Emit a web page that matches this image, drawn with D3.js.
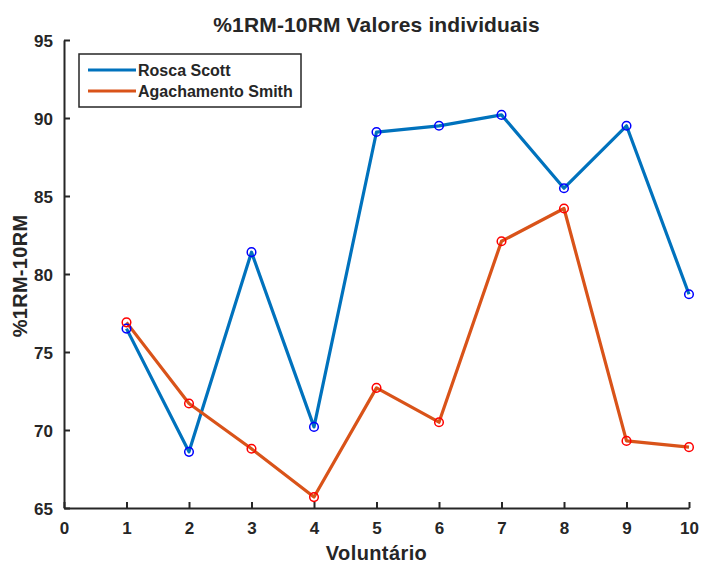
<!DOCTYPE html>
<html>
<head>
<script src="https://d3js.org/d3.v7.min.js"></script>
<style>
  body { margin: 0; background: #fff; }
  text { font-family: "Liberation Sans", Arial, sans-serif; font-weight: bold; fill: #262626; }
</style>
</head>
<body>
<script>
var w = 701, h = 563;

// data
var voluntarios = [1, 2, 3, 4, 5, 6, 7, 8, 9, 10];
var roscaScott = [76.5, 68.6, 81.4, 70.2, 89.1, 89.5, 90.2, 85.5, 89.5, 78.7];
var agachamentoSmith = [76.9, 71.7, 68.8, 65.7, 72.7, 70.5, 82.1, 84.2, 69.3, 68.9];
var xTicks = [0, 1, 2, 3, 4, 5, 6, 7, 8, 9, 10];
var yTicks = [65, 70, 75, 80, 85, 90, 95];
var seriesNames = ["Rosca Scott", "Agachamento Smith"];

var mLeft = 64, mRight = 689, mTop = 40, mBottom = 508;

var svg = d3.select("body").append("svg").attr("width", w).attr("height", h);

var x = d3.scaleLinear().domain([0, 10]).range([mLeft, mRight]);
var y = d3.scaleLinear().domain([65, 95]).range([mBottom, mTop]);

// axes (ticks point inward like matlab)
var xAxis = d3.axisBottom(x).tickValues(xTicks).tickSizeInner(-6).tickSizeOuter(0).tickPadding(14);
var yAxis = d3.axisLeft(y).tickValues(yTicks).tickSizeInner(-6).tickSizeOuter(0).tickPadding(11);

var gx = svg.append("g").attr("transform", "translate(0," + mBottom + ")").call(xAxis);
var gy = svg.append("g").attr("transform", "translate(" + mLeft + ",0)").call(yAxis);

[gx, gy].forEach(function(g){
  g.select(".domain").attr("stroke", "#262626").attr("stroke-width", 2);
  g.selectAll(".tick line").attr("stroke", "#262626").attr("stroke-width", 2);
  g.selectAll(".tick text").attr("font-size", "17px").attr("fill", "#262626")
    .style("font-family", "'Liberation Sans', Arial, sans-serif").style("font-weight", "bold");
});
gy.selectAll(".tick text").attr("dy", "0.36em");

var series = [
  {name: seriesNames[0], vals: roscaScott, line: "#0072BD", marker: "#0000FF"},
  {name: seriesNames[1], vals: agachamentoSmith, line: "#D95319", marker: "#FF0000"}
];

var line = d3.line()
  .x(function(d, i){ return x(voluntarios[i]); })
  .y(function(d){ return y(d); });

series.forEach(function(s){
  svg.append("path").datum(s.vals)
    .attr("d", line)
    .attr("fill", "none")
    .attr("stroke", s.line)
    .attr("stroke-width", 3.2)
    .attr("stroke-linejoin", "round");
});

series.forEach(function(s){
  svg.selectAll(null).data(s.vals).enter().append("circle")
    .attr("cx", function(d, i){ return x(voluntarios[i]); })
    .attr("cy", function(d){ return y(d); })
    .attr("r", 4.3)
    .attr("fill", "none")
    .attr("stroke", s.marker)
    .attr("stroke-width", 1.5);
});

// legend
var lg = svg.append("g");
lg.append("rect").attr("x", 79).attr("y", 54).attr("width", 222).attr("height", 53)
  .attr("fill", "#fff").attr("stroke", "#262626").attr("stroke-width", 1.5);
series.forEach(function(s, i){
  var ly = 70 + i * 21;
  lg.append("line").attr("x1", 88).attr("x2", 136).attr("y1", ly).attr("y2", ly)
    .attr("stroke", s.line).attr("stroke-width", 3.2);
  lg.append("text").attr("x", 138).attr("y", ly).attr("dy", "0.35em")
    .attr("font-size", "16px").text(s.name);
});

// titles
svg.append("text").attr("x", (mLeft + mRight) / 2).attr("y", 32)
  .attr("text-anchor", "middle").attr("font-size", "21px")
  .attr("letter-spacing", "0.15px")
  .text("%1RM-10RM Valores individuais");

svg.append("text").attr("x", (mLeft + mRight) / 2).attr("y", 560)
  .attr("text-anchor", "middle").attr("font-size", "20px")
  .attr("letter-spacing", "0.4px")
  .text("Voluntário");

svg.append("text")
  .attr("transform", "translate(27,276) rotate(-90)")
  .attr("text-anchor", "middle").attr("font-size", "20px")
  .attr("letter-spacing", "0.3px")
  .text("%1RM-10RM");
</script>
</body>
</html>
